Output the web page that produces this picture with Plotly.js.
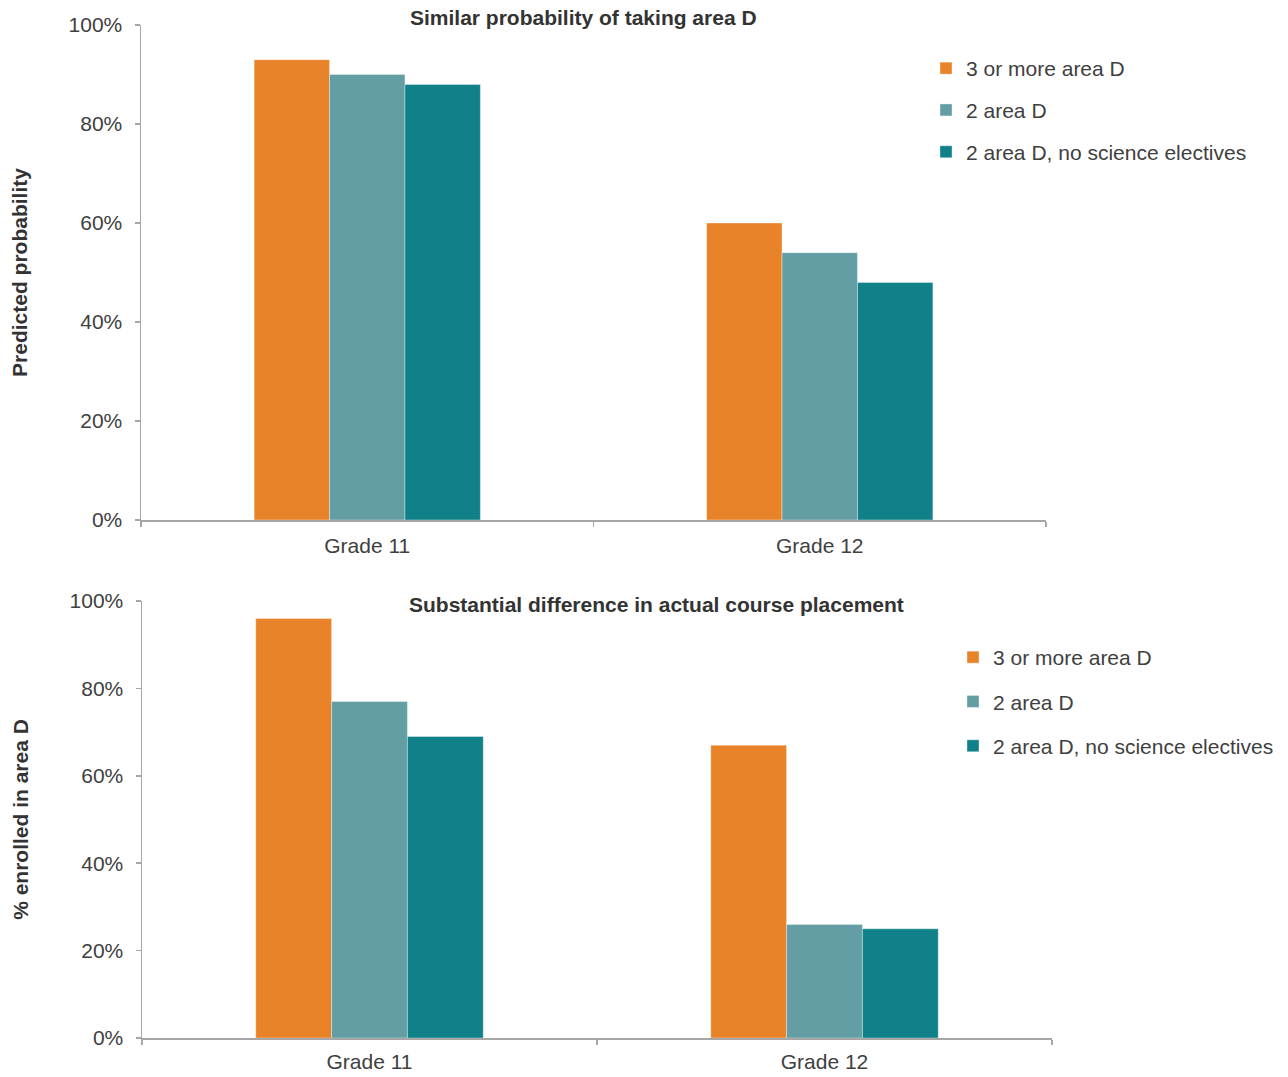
<!DOCTYPE html>
<html>
<head>
<meta charset="utf-8">
<script src="https://cdn.plot.ly/plotly-3.0.1.min.js"></script>
<style>html,body{margin:0;padding:0;background:#fff;}#chart{width:1288px;height:1077px;}</style>
</head>
<body>
<div id="chart"></div>
<script>
const categories = ["Grade 11", "Grade 12"];
const seriesNames = ["3 or more area D", "2 area D", "2 area D, no science electives"];
const topValues = [
  [0.93, 0.60],
  [0.90, 0.54],
  [0.88, 0.48]
];
const bottomValues = [
  [0.96, 0.67],
  [0.77, 0.26],
  [0.69, 0.25]
];
const colors = ["#E8832A", "#639EA5", "#108189"];
const topTitle = "Similar probability of taking area D";
const bottomTitle = "Substantial difference in actual course placement";
const topYTitle = "Predicted probability";
const bottomYTitle = "% enrolled in area D";

const FONT = "Liberation Sans, Arial, sans-serif";
const FS = 21;
const W = 1288, H = 1077;
const px = v => v / W;
const py = v => 1 - v / H;

const traces = [];
seriesNames.forEach((name, i) => {
  traces.push({
    type: "bar", x: categories, y: topValues[i], name: name,
    marker: {color: colors[i], line: {color: "rgba(255,255,255,0.6)", width: 0.6}},
    xaxis: "x", yaxis: "y", legend: "legend", legendgroup: "t" + i,
    hoverinfo: "y+name"
  });
});
seriesNames.forEach((name, i) => {
  traces.push({
    type: "bar", x: categories, y: bottomValues[i], name: name,
    marker: {color: colors[i], line: {color: "rgba(255,255,255,0.6)", width: 0.6}},
    xaxis: "x2", yaxis: "y2", legend: "legend2", legendgroup: "b" + i,
    hoverinfo: "y+name"
  });
});

const axisCommon = {
  showline: true, linecolor: "#a6a6a6", linewidth: 1.5,
  ticks: "outside", ticklen: 5, tickcolor: "#a6a6a6", tickwidth: 1.5,
  showgrid: false, zeroline: false,
  tickfont: {family: FONT, size: FS, color: "#404040"}
};

const layout = {
  width: W, height: H,
  margin: {l: 0, r: 0, t: 0, b: 0},
  paper_bgcolor: "#fff", plot_bgcolor: "#fff",
  barmode: "group", bargap: 0.5, bargroupgap: 0,
  font: {family: FONT, color: "#404040"},
  xaxis: Object.assign({}, axisCommon, {
    domain: [px(141), px(1046)], anchor: "y",
    type: "category", range: [-0.5, 1.5], tickson: "boundaries",
    ticklabelstandoff: 6
  }),
  yaxis: Object.assign({}, axisCommon, {
    domain: [py(520), py(25)], anchor: "x",
    range: [0, 1], dtick: 0.2, tickformat: ".0%", ticklabelstandoff: 8,
    title: {text: "<b>" + topYTitle + "</b>", font: {family: FONT, size: FS, color: "#333333"}, standoff: 35}
  }),
  xaxis2: Object.assign({}, axisCommon, {
    domain: [px(142), px(1052)], anchor: "y2",
    type: "category", range: [-0.5, 1.5], tickson: "boundaries",
    ticklabelstandoff: 4
  }),
  yaxis2: Object.assign({}, axisCommon, {
    domain: [py(1038), py(601)], anchor: "x2",
    range: [0, 1], dtick: 0.2, tickformat: ".0%", ticklabelstandoff: 8,
    title: {text: "<b>" + bottomYTitle + "</b>", font: {family: FONT, size: FS, color: "#333333"}, standoff: 35}
  }),
  legend: {
    x: px(926), y: py(48), xanchor: "left", yanchor: "top",
    font: {family: FONT, size: FS, color: "#404040"},
    traceorder: "grouped", tracegroupgap: 11.5, bgcolor: "rgba(0,0,0,0)"
  },
  legend2: {
    x: px(953), y: py(637), xanchor: "left", yanchor: "top",
    font: {family: FONT, size: FS, color: "#404040"},
    traceorder: "grouped", tracegroupgap: 14, bgcolor: "rgba(0,0,0,0)"
  },
  annotations: [
    {text: "<b>" + topTitle + "</b>", xref: "paper", yref: "paper",
     x: px(583), y: py(18), xanchor: "center", yanchor: "middle", showarrow: false,
     font: {family: FONT, size: FS, color: "#333333"}},
    {text: "<b>" + bottomTitle + "</b>", xref: "paper", yref: "paper",
     x: px(656), y: py(604), xanchor: "center", yanchor: "middle", showarrow: false,
     font: {family: FONT, size: FS, color: "#333333"}}
  ],
  showlegend: true
};

Plotly.newPlot("chart", traces, layout, {displayModeBar: false, staticPlot: true});
</script>
</body>
</html>
